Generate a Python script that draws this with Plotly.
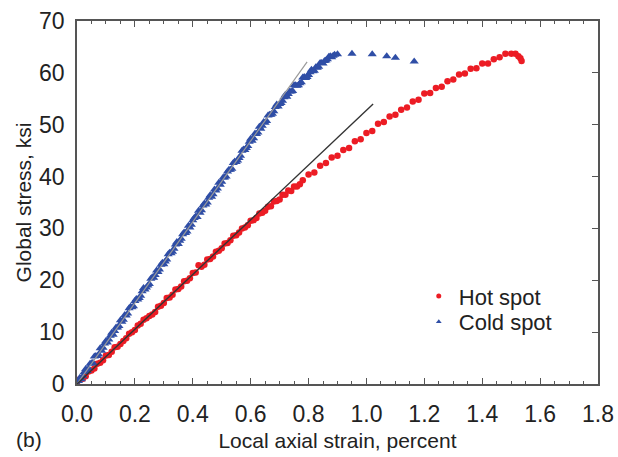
import plotly.graph_objects as go

# Hot spot (red circles): local axial strain (%) vs global stress (ksi)
hot_strain = [0.00, 0.01, 0.02, 0.03, 0.04, 0.05, 0.06, 0.07, 0.08, 0.09,
              0.10, 0.11, 0.12, 0.13, 0.14, 0.15, 0.16, 0.17, 0.18, 0.19,
              0.20, 0.21, 0.22, 0.23, 0.24, 0.25, 0.26, 0.27, 0.28, 0.29,
              0.30, 0.31, 0.32, 0.33, 0.34, 0.35, 0.36, 0.37, 0.38, 0.39,
              0.40, 0.41, 0.42, 0.43, 0.44, 0.45, 0.46, 0.47, 0.48, 0.49,
              0.50, 0.51, 0.52, 0.53, 0.54, 0.55, 0.56, 0.57, 0.58, 0.59,
              0.60, 0.61, 0.62, 0.63, 0.64, 0.65, 0.66, 0.67, 0.68, 0.69,
              0.70, 0.71, 0.72, 0.73, 0.74, 0.75, 0.76, 0.77, 0.78, 0.80,
              0.82, 0.84, 0.86, 0.88, 0.90, 0.92, 0.94, 0.96, 0.98, 1.00,
              1.02, 1.04, 1.06, 1.08, 1.10, 1.12, 1.14, 1.16, 1.18, 1.20,
              1.22, 1.24, 1.26, 1.28, 1.30, 1.32, 1.34, 1.36, 1.38, 1.40,
              1.42, 1.44, 1.46, 1.48, 1.50, 1.515, 1.525, 1.532, 1.536]
hot_stress = [0.0, 0.9, 1.0, 1.5, 2.4, 2.6, 3.0, 3.9, 4.1, 4.6,
              5.5, 5.6, 6.2, 7.1, 7.2, 7.7, 8.3, 8.8, 9.7, 10.0,
              10.4, 11.3, 11.6, 12.4, 12.7, 13.1, 13.4, 13.9, 14.9, 15.1,
              15.6, 16.6, 16.7, 17.2, 18.2, 18.3, 18.8, 19.8, 19.9, 20.4,
              21.4, 21.5, 22.9, 22.6, 23.0, 24.0, 24.1, 24.6, 25.5, 25.7,
              26.2, 27.1, 27.2, 27.7, 28.6, 28.7, 29.2, 30.0, 30.2, 30.6,
              31.5, 31.6, 32.0, 32.9, 33.0, 33.4, 34.2, 34.3, 35.2, 35.3,
              35.6, 36.5, 36.5, 37.3, 37.2, 38.1, 38.1, 38.5, 39.3, 40.4,
              40.8, 42.1, 42.6, 43.7, 44.0, 45.1, 45.5, 46.8, 47.2, 48.4,
              48.8, 50.2, 50.5, 51.6, 51.9, 52.9, 53.3, 54.5, 54.8, 56.0,
              56.1, 57.1, 57.3, 58.4, 58.7, 59.7, 59.9, 60.8, 60.9, 61.8,
              61.8, 62.6, 63.0, 63.7, 63.7, 63.7, 63.2, 62.8, 62.3]

# Cold spot (blue triangles) - first set of readings
cold_strain = [0.00, 0.01, 0.02, 0.03, 0.04, 0.05, 0.06, 0.07, 0.08, 0.09,
               0.10, 0.11, 0.12, 0.13, 0.14, 0.15, 0.16, 0.17, 0.18, 0.19,
               0.20, 0.21, 0.22, 0.23, 0.24, 0.25, 0.26, 0.27, 0.28, 0.29,
               0.30, 0.31, 0.32, 0.33, 0.34, 0.35, 0.36, 0.37, 0.38, 0.39,
               0.40, 0.41, 0.42, 0.43, 0.44, 0.45, 0.46, 0.47, 0.48, 0.49,
               0.50, 0.51, 0.52, 0.53, 0.54, 0.55, 0.56, 0.57, 0.58, 0.59,
               0.60, 0.61, 0.62, 0.63, 0.64, 0.65, 0.66, 0.67, 0.68, 0.69,
               0.70, 0.71, 0.72, 0.73, 0.74, 0.75, 0.76, 0.77, 0.78, 0.79,
               0.80, 0.81, 0.82, 0.83, 0.84, 0.85, 0.86, 0.87, 0.88, 0.89,
               0.90, 0.95, 1.02, 1.07, 1.10, 1.165]
cold_stress = [0.0, 1.2, 1.5, 2.9, 3.0, 4.0, 5.3, 5.4, 6.9, 7.0,
               8.3, 8.6, 9.9, 10.2, 10.9, 12.3, 12.4, 13.2, 14.6, 14.8,
               16.0, 16.3, 17.0, 18.5, 18.6, 19.3, 20.6, 21.0, 21.6, 23.0,
               23.1, 24.0, 25.3, 25.5, 26.9, 27.0, 28.0, 29.2, 29.4, 30.2,
               31.6, 32.3, 33.4, 33.5, 34.8, 35.0, 36.4, 36.6, 37.3, 38.8,
               39.0, 39.8, 41.0, 41.3, 42.6, 42.8, 43.6, 45.0, 45.1, 45.9,
               47.3, 47.4, 48.2, 49.6, 49.8, 50.4, 51.8, 51.9, 52.6, 53.9,
               54.0, 54.6, 55.8, 55.9, 56.4, 57.6, 57.5, 58.0, 59.1, 59.0,
               59.6, 60.6, 60.4, 61.0, 61.9, 61.8, 62.4, 63.1, 63.0, 63.5,
               63.6, 63.7, 63.6, 63.2, 62.9, 62.2]

# Cold spot - intermediate readings (dense band)
cold_strain_mid = [0.005, 0.015, 0.025, 0.035, 0.045, 0.055, 0.065, 0.075, 0.085, 0.095,
                   0.105, 0.115, 0.125, 0.135, 0.145, 0.155, 0.165, 0.175, 0.185, 0.195,
                   0.205, 0.215, 0.225, 0.235, 0.245, 0.255, 0.265, 0.275, 0.285, 0.295,
                   0.305, 0.315, 0.325, 0.335, 0.345, 0.355, 0.365, 0.375, 0.385, 0.395,
                   0.405, 0.415, 0.425, 0.435, 0.445, 0.455, 0.465, 0.475, 0.485, 0.495,
                   0.505, 0.515, 0.525, 0.535, 0.545, 0.555, 0.565, 0.575, 0.585, 0.595,
                   0.605, 0.615, 0.625, 0.635, 0.645, 0.655, 0.665, 0.675, 0.685, 0.695,
                   0.705, 0.715, 0.725, 0.735, 0.745, 0.755, 0.765, 0.775, 0.785, 0.795,
                   0.805, 0.815, 0.825, 0.835, 0.845, 0.855, 0.865, 0.875, 0.885]
cold_stress_mid = [0.6, 0.9, 2.3, 2.5, 3.9, 4.1, 5.4, 5.7, 6.4, 7.8,
                   8.0, 9.3, 9.5, 10.9, 11.2, 12.0, 13.3, 13.6, 14.9, 15.0,
                   16.4, 16.6, 17.9, 18.2, 19.0, 20.3, 20.5, 21.9, 22.1, 23.4,
                   23.6, 25.0, 25.2, 26.1, 27.4, 27.6, 28.9, 29.1, 30.5, 30.7,
                   32.0, 32.2, 33.0, 34.4, 34.6, 35.9, 36.1, 37.5, 37.7, 38.4,
                   39.8, 40.0, 41.3, 41.5, 42.9, 43.1, 44.0, 45.2, 45.5, 46.7,
                   46.9, 48.3, 48.5, 49.2, 50.5, 50.7, 51.9, 52.1, 53.4, 53.5,
                   54.2, 55.3, 55.4, 56.4, 56.5, 57.6, 57.6, 58.2, 59.2, 59.2,
                   60.1, 60.3, 61.1, 61.2, 61.9, 62.3, 62.6, 63.2, 63.3]

# Linear elastic fit lines (end points)
hot_fit_strain = [0.0, 1.023]
hot_fit_stress = [0.0, 54.0]
cold_fit_strain = [0.0, 0.795]
cold_fit_stress = [0.0, 62.1]

FONT = "Liberation Sans, Arial, sans-serif"
AX = "#555555"
RED = "#ec1c24"
BLUE = "#2f4ea6"

fig = go.Figure()
fig.add_trace(go.Scatter(x=cold_fit_strain, y=cold_fit_stress, mode="lines",
                         line=dict(color="#9a9a9a", width=1.2),
                         showlegend=False, yaxis="y2", hoverinfo="skip"))
fig.add_trace(go.Scatter(x=hot_fit_strain, y=hot_fit_stress, mode="lines",
                         line=dict(color="#333333", width=1.4),
                         showlegend=False, yaxis="y2", hoverinfo="skip"))
fig.add_trace(go.Scatter(x=hot_strain, y=hot_stress, mode="markers",
                         name="Hot spot", showlegend=False,
                         marker=dict(symbol="circle", size=6.5, color=RED)))
fig.add_trace(go.Scatter(x=cold_strain + cold_strain_mid,
                         y=cold_stress + cold_stress_mid, mode="markers",
                         name="Cold spot", showlegend=False,
                         marker=dict(symbol="triangle-up", size=8, color=BLUE)))
# legend entries (small markers as in the original legend)
fig.add_trace(go.Scatter(x=[None], y=[None], mode="markers", name="Hot spot",
                         legend="legend",
                         marker=dict(symbol="circle", size=5, color=RED)))
fig.add_trace(go.Scatter(x=[None], y=[None], mode="markers", name="Cold spot",
                         legend="legend2",
                         marker=dict(symbol="triangle-up", size=5, color=BLUE)))

fig.update_layout(
    width=618, height=457, autosize=False,
    margin=dict(l=77, r=20, t=21, b=73, autoexpand=False),
    paper_bgcolor="white", plot_bgcolor="white",
    font=dict(family=FONT, size=21, color="#222222"),
    showlegend=True,
    legend=dict(x=0.656, y=0.242, xanchor="left", yanchor="middle",
                bgcolor="rgba(0,0,0,0)", font=dict(size=22)),
    legend2=dict(x=0.656, y=0.171, xanchor="left", yanchor="middle",
                 bgcolor="rgba(0,0,0,0)", font=dict(size=22)),
    xaxis=dict(range=[0, 1.8], dtick=0.2, tick0=0, tickformat=".1f",
               showgrid=False, zeroline=False, automargin=False,
               showline=True, linecolor=AX, linewidth=1.5, mirror="ticks",
               ticks="inside", ticklen=6, tickcolor=AX, tickwidth=1.2,
               minor=dict(dtick=0.05, ticks="inside", ticklen=3,
                          tickcolor=AX, tickwidth=1, showgrid=False),
               ticklabelstandoff=9, ticklabeloverflow="allow",
               tickfont=dict(size=23),
               title=dict(text="Local axial strain, percent", standoff=7,
                          font=dict(size=21))),
    yaxis=dict(range=[0, 70], dtick=10, showgrid=False, zeroline=False,
               automargin=False,
               showline=True, linecolor=AX, linewidth=1.5, mirror=True,
               ticks="", ticklabelstandoff=6, tickfont=dict(size=23),
               ticklabeloverflow="allow",
               title=dict(text="Global stress, ksi", standoff=2,
                          font=dict(size=21))),
    yaxis2=dict(range=[0, 70], dtick=10, overlaying="y", side="right",
                showgrid=False, zeroline=False, showline=False,
                automargin=False,
                ticks="inside", ticklen=6, tickcolor=AX, tickwidth=1.2,
                showticklabels=False),
    annotations=[dict(text="(b)", xref="paper", yref="paper",
                      x=-0.092, y=-0.154, xanchor="center", yanchor="middle",
                      showarrow=False, font=dict(size=21))],
)

fig.write_html("out.html",
               config={"displayModeBar": False},
               post_script="document.body.style.margin='0';"
                           "document.body.style.overflow='hidden';")
